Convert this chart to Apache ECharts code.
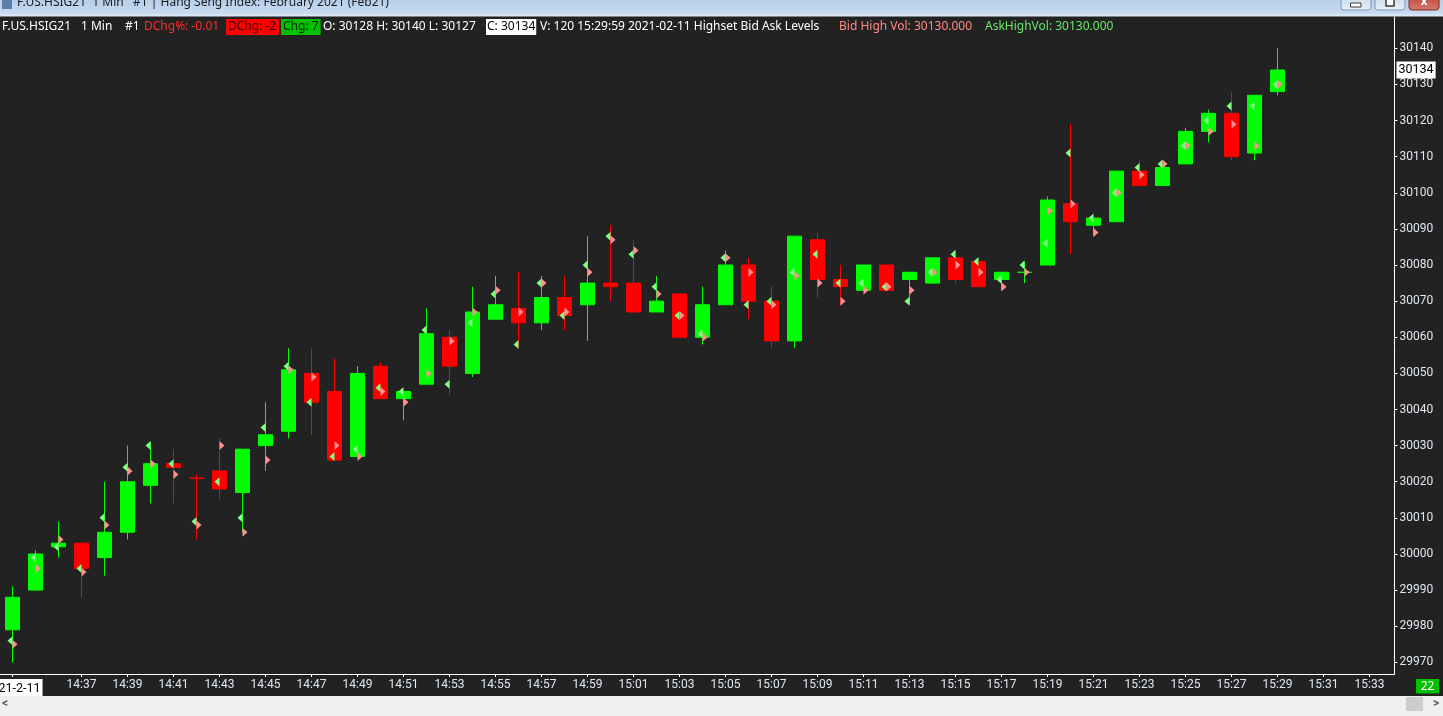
<!DOCTYPE html>
<html><head><meta charset="utf-8">
<script src="https://cdn.jsdelivr.net/npm/echarts@6/dist/echarts.min.js"></script>
<style>html,body{margin:0;padding:0;background:#222222;overflow:hidden}#c{width:1443px;height:716px}</style>
</head><body><div id="c"></div>
<script>
// ---- data ----
const times = ['14:34','14:35','14:36','14:37','14:38','14:39','14:40','14:41','14:42','14:43',
  '14:44','14:45','14:46','14:47','14:48','14:49','14:50','14:51','14:52','14:53',
  '14:54','14:55','14:56','14:57','14:58','14:59','15:00','15:01','15:02','15:03',
  '15:04','15:05','15:06','15:07','15:08','15:09','15:10','15:11','15:12','15:13',
  '15:14','15:15','15:16','15:17','15:18','15:19','15:20','15:21','15:22','15:23',
  '15:24','15:25','15:26','15:27','15:28','15:29'];
const openP = [29979,29990,30002,30003,29999,30006,30019,30025,30021,30023,
  30017,30030,30034,30050,30045,30027,30052,30043,30047,30060,
  30050,30065,30068,30064,30071,30069,30075,30075,30067,30072,
  30060,30069,30080,30070,30059,30087,30076,30073,30080,30076,
  30075,30082,30081,30076,30078,30080,30097,30091,30092,30106,
  30102,30108,30117,30122,30111,30128];
const closeP = [29988,30000,30003,29996,30006,30020,30025,30024,30021,30018,
  30029,30033,30051,30042,30026,30050,30043,30045,30061,30052,
  30067,30069,30064,30071,30066,30075,30074,30067,30070,30060,
  30069,30080,30070,30059,30088,30076,30074,30080,30073,30078,
  30082,30076,30074,30078,30078,30098,30092,30093,30106,30102,
  30107,30117,30122,30110,30127,30134];
const lowP = [29970,29990,29999,29988,29994,30004,30014,30014,30004,30015,
  30006,30023,30032,30033,30026,30027,30043,30037,30047,30044,
  30049,30065,30057,30062,30062,30059,30070,30067,30067,30060,
  30058,30069,30065,30057,30057,30071,30069,30073,30073,30069,
  30075,30075,30074,30073,30075,30080,30083,30088,30092,30102,
  30102,30108,30114,30109,30109,30127];
const highP = [29991,30001,30009,30003,30020,30030,30031,30029,30022,30032,
  30029,30042,30057,30057,30054,30052,30053,30045,30068,30062,
  30074,30077,30078,30077,30077,30088,30091,30087,30077,30072,
  30074,30084,30082,30074,30088,30089,30080,30080,30080,30078,
  30082,30084,30081,30078,30081,30099,30119,30093,30106,30109,
  30108,30118,30123,30128,30127,30140];
const askHigh = [29976,29999,30002,29996,30010,30024,30030,30025,30009,30020,
  30010,30035,30052,30042,30027,30029,30046,30045,30062,30047,
  30064,30072,30058,30075,30066,30080,30088,30083,30074,30066,
  30061,30082,30069,30070,30078,30083,30075,30075,30074,30070,
  30078,30083,30081,30076,30080,30086,30111,30093,30100,30107,
  30108,30113,30120,30124,30124,30130];
const bidHigh = [29975,29996,30004,29995,30008,30023,30025,30022,30008,30030,
  30006,30026,30051,30049,30030,30027,30045,30042,30050,30059,
  30067,30073,30067,30075,30067,30078,30087,30084,30072,30066,
  30060,30082,30078,30069,30077,30075,30070,30073,30074,30073,
  30078,30080,30078,30074,30078,30095,30097,30089,30100,30105,
  30108,30113,30117,30119,30113,30130];
const yTickValues = [29970,29980,29990,30000,30010,30020,30030,30040,30050,30060,
  30070,30080,30090,30100,30110,30120,30130,30140];
const xTickIndex = [0,3,5,7,9,11,13,15,17,19,21,23,25,27,29,31,33,35,37,39,41,43,45,47,49,51,53,55,57,59];
const xTickLabels = ['2021-2-11','14:37','14:39','14:41','14:43','14:45','14:47','14:49','14:51','14:53',
  '14:55','14:57','14:59','15:01','15:03','15:05','15:07','15:09','15:11','15:13',
  '15:15','15:17','15:19','15:21','15:23','15:25','15:27','15:29','15:31','15:33'];
const volume = 120;
const lastTime = '15:29:59';
const dateStr = '2021-02-11';

// ---- build ----
const n = times.length;
const candleData = [], askData = [], bidData = [];
for (let i = 0; i < n; i++) {
  candleData.push([i, openP[i], closeP[i], lowP[i], highP[i]]);
  askData.push([i, askHigh[i]]);
  bidData.push([i, bidHigh[i]]);
}
const FONT = "Roboto, 'Noto Sans', sans-serif";
const HFONT = "'Noto Sans', 'Open Sans', sans-serif";
const last = n - 1;

const chart = echarts.init(document.getElementById('c'), null, {renderer: 'canvas'});

function txt(x, y, s, fill, extra) {
  return Object.assign({type: 'text', x: x, y: y, z: 100, silent: true,
    style: Object.assign({text: s, fill: fill, font: '12px ' + HFONT, verticalAlign: 'middle', align: 'left'}, extra || {})});
}
const HY = 27;

const graphics = [
  // window title bar
  {type: 'rect', shape: {x: 0, y: 0, width: 1443, height: 15}, z: 90, silent: true,
    style: {fill: new echarts.graphic.LinearGradient(0, 0, 0, 1, [{offset: 0, color: '#b7cfeb'}, {offset: 1, color: '#c9dbf1'}])}},
  {type: 'rect', shape: {x: 0, y: 14, width: 1443, height: 2.5}, z: 90, silent: true, style: {fill: '#d9e6f5'}},
  {type: 'rect', shape: {x: 2, y: 0, width: 10, height: 9}, z: 91, silent: true, style: {fill: '#5c7fa8'}},
  txt(17, 3, 'F.US.HSIG21  1 Min   #1 | Hang Seng Index: February 2021 (Feb21)', '#1a1a1a'),
  // window buttons
  {type: 'rect', shape: {x: 1341, y: -5, width: 30, height: 15, r: 3}, z: 91, silent: true,
    style: {fill: new echarts.graphic.LinearGradient(0, 0, 0, 1, [{offset: 0, color: '#c8d8ec'}, {offset: 1, color: '#e8eff8'}]), stroke: '#7f97b4', lineWidth: 1}},
  {type: 'rect', shape: {x: 1350.5, y: 3, width: 10.5, height: 4}, z: 92, silent: true, style: {fill: '#ffffff', stroke: '#3a3a3a', lineWidth: 1}},
  {type: 'rect', shape: {x: 1375, y: -5, width: 30, height: 15, r: 3}, z: 91, silent: true,
    style: {fill: new echarts.graphic.LinearGradient(0, 0, 0, 1, [{offset: 0, color: '#c8d8ec'}, {offset: 1, color: '#e8eff8'}]), stroke: '#7f97b4', lineWidth: 1}},
  {type: 'rect', shape: {x: 1386, y: -2, width: 8, height: 8}, z: 92, silent: true, style: {fill: '#ffffff', stroke: '#3a3a3a', lineWidth: 1.5}},
  {type: 'rect', shape: {x: 1409, y: -5, width: 30, height: 15, r: 3}, z: 91, silent: true,
    style: {fill: new echarts.graphic.LinearGradient(0, 0, 0, 1, [{offset: 0, color: '#b8463a'}, {offset: 1, color: '#d87a6c'}]), stroke: '#7a2a22', lineWidth: 1}},
  txt(1424, 2, 'x', '#ffffff', {font: 'bold 13px ' + FONT, align: 'center'}),
  // header line
  txt(2, HY, 'F.US.HSIG21', '#ffffff'),
  txt(81, HY, '1 Min', '#ffffff'),
  txt(125, HY, '#1', '#ffffff'),
  txt(144, HY, 'DChg%: -0.01', '#ff2a2a'),
  txt(226, HY, 'DChg: -2', '#2a0000', {backgroundColor: '#ff0000', padding: [2, 3, 2, 2]}),
  txt(281, HY, 'Chg: ' + (closeP[last] - openP[last] + 1), '#002000', {backgroundColor: '#00c000', padding: [2, 2, 2, 2]}),
  txt(323, HY, 'O: ' + openP[last] + ' H: ' + highP[last] + ' L: ' + lowP[last], '#ffffff'),
  txt(486, HY, 'C: ' + closeP[last], '#000000', {backgroundColor: '#ffffff', padding: [2, 1, 2, 1]}),
  txt(540, HY, 'V: ' + volume + ' ' + lastTime + ' ' + dateStr + ' Highset Bid Ask Levels', '#ffffff'),
  txt(839, HY, 'Bid High Vol: ' + bidHigh[last].toFixed(3), '#ff8a80'),
  txt(985, HY, 'AskHighVol: ' + askHigh[last].toFixed(3), '#66e866'),
  // seconds box
  {type: 'rect', shape: {x: 1416, y: 679, width: 23, height: 14.5}, z: 91, silent: true, style: {fill: '#00c000'}},
  txt(1427.5, 686.5, '22', '#ffffff', {align: 'center'}),
  // scrollbar
  {type: 'rect', shape: {x: 0, y: 696, width: 1443, height: 20}, z: 90, silent: true, style: {fill: '#f0f0f0'}},
  {type: 'rect', shape: {x: 1406, y: 697, width: 17, height: 14}, z: 91, silent: true, style: {fill: '#cdcdcd'}},
  txt(2, 704, '<', '#606060', {font: 'bold 12px ' + FONT}),
  txt(1433, 704, '>', '#606060', {font: 'bold 12px ' + FONT})
];

const option = {
  backgroundColor: '#222222',
  animation: false,
  textStyle: {fontFamily: FONT},
  grid: {left: 0, top: 17, right: 48.5, bottom: 42, containLabel: false, outerBoundsMode: 'none'},
  xAxis: {
    type: 'value',
    min: -12.5 / 23,
    max: (1394.5 - 12.5) / 23,
    splitLine: {show: false},
    axisLine: {show: true, onZero: false, lineStyle: {color: '#ffffff', width: 1}},
    axisTick: {show: true, customValues: xTickIndex, length: 3, lineStyle: {color: '#ffffff'}},
    axisLabel: {
      customValues: xTickIndex, margin: 5, color: '#dfe7f0', fontSize: 12, fontFamily: FONT,
      formatter: function (v) {
        const k = xTickIndex.indexOf(Math.round(v));
        if (k < 0) return '';
        return k === 0 ? '{d|' + xTickLabels[k] + '}' : xTickLabels[k];
      },
      rich: {d: {backgroundColor: '#ffffff', color: '#000000', padding: [3, 2, 3, 2], fontSize: 12.5, fontFamily: FONT}}
    }
  },
  yAxis: {
    type: 'value',
    position: 'right',
    min: 29966.77,
    max: 30148.67,
    scale: true,
    splitLine: {show: false},
    axisLine: {show: true, onZero: false, lineStyle: {color: '#ffffff', width: 1}},
    axisTick: {show: true, customValues: yTickValues, length: 3, lineStyle: {color: '#ffffff'}},
    axisLabel: {customValues: yTickValues, margin: 5, color: '#dfe7f0', fontSize: 12, fontFamily: FONT,
      formatter: function (v) { return String(Math.round(v)); }}
  },
  series: [
    {
      type: 'candlestick',
      data: candleData,
      barWidth: 14,
      z: 2,
      silent: true,
      itemStyle: {color: '#00ff00', color0: '#ff0000', borderColor: '#00ff00', borderColor0: '#ff0000', borderWidth: 1},
      markLine: {
        silent: true,
        symbol: 'none',
        animation: false,
        lineStyle: {opacity: 0},
        label: {
          show: true, position: 'end', distance: 2,
          formatter: String(closeP[last]),
          color: '#000000', backgroundColor: '#ffffff', padding: [2, 2, 2, 2],
          fontSize: 12.5, fontFamily: FONT, opacity: 1
        },
        data: [{yAxis: closeP[last]}]
      }
    },
    {
      type: 'scatter',
      data: askData,
      symbol: 'path://M10,0 L10,18 L0,9 Z',
      symbolSize: [5, 9],
      symbolOffset: [-2.5, 0],
      silent: true,
      z: 3,
      itemStyle: {color: '#80ff80', opacity: 1}
    },
    {
      type: 'scatter',
      data: bidData,
      symbol: 'path://M0,0 L0,18 L10,9 Z',
      symbolSize: [5, 9],
      symbolOffset: [2.5, 0],
      silent: true,
      z: 3,
      itemStyle: {color: '#ff9090', opacity: 1}
    }
  ],
  graphic: graphics
};
chart.setOption(option);
</script>
</body></html>
